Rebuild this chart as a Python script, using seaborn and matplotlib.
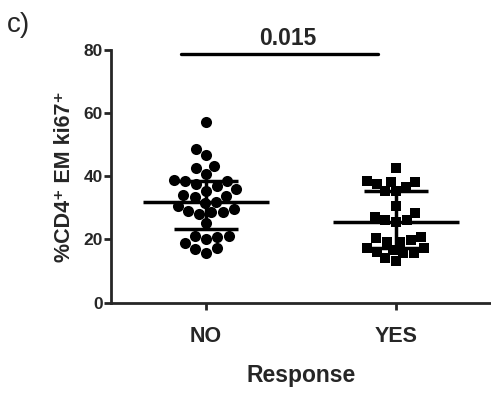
import numpy as np
import pandas as pd
import matplotlib
matplotlib.use("Agg")
import matplotlib.pyplot as plt
import seaborn as sns

# values (%CD4+ EM ki67+)
groups = ["NO", "YES"]
no_vals = [57.2, 48.6, 46.7, 43.3, 42.5, 40.7, 38.5, 38.5, 38.8, 36.9, 37.4,
           35.4, 35.9, 33.8, 33.5, 34.0, 31.9, 31.6, 30.6, 29.5, 28.6, 28.0,
           28.6, 29.0, 25.1, 20.0, 21.2, 21.2, 20.9, 18.8, 17.2, 15.8, 17.0]
yes_vals = [42.5, 38.5, 38.2, 36.7, 37.5, 38.2, 35.2, 35.2, 30.6, 28.3, 26.0,
            25.4, 26.0, 27.2, 20.3, 19.3, 19.1, 19.8, 20.9, 17.4, 17.4, 16.1,
            15.6, 16.6, 15.6, 13.2, 14.0]
p_value = "0.015"
y_ticks = [0, 20, 40, 60, 80]

df = pd.DataFrame({
    "Response": ["NO"] * len(no_vals) + ["YES"] * len(yes_vals),
    "value": no_vals + yes_vals,
})

sns.set_style("ticks")
plt.rcParams["font.family"] = ["Liberation Sans", "DejaVu Sans"]
plt.rcParams["axes.labelweight"] = "bold"

fig = plt.figure(figsize=(4.91, 3.99), dpi=100)
ax = fig.add_axes([0.226, 0.2414, 0.774, 0.6344])

sns.swarmplot(data=df[df.Response == "NO"], x="Response", y="value",
              order=groups, marker="o", color="black", size=8, ax=ax)
sns.swarmplot(data=df[df.Response == "YES"], x="Response", y="value",
              order=groups, marker="s", color="black", size=7.5, ax=ax)

# median with interquartile range
for i, vals in enumerate([no_vals, yes_vals]):
    q1, med, q3 = np.percentile(vals, [25, 50, 75], method="weibull")
    ax.hlines(med, i - 0.33, i + 0.33, color="black", lw=2.5, zorder=5)
    ax.hlines([q1, q3], i - 0.17, i + 0.17, color="black", lw=2.5, zorder=5)
    ax.vlines(i, q1, q3, color="black", lw=2.5, zorder=5)

ax.set_xlim(-0.5, 1.5)
ax.set_ylim(0, 80)
ax.set_yticks(y_ticks)
sns.despine(ax=ax)
for s in ["left", "bottom"]:
    ax.spines[s].set_linewidth(2)
ax.tick_params(direction="out", length=5, width=2)
ax.tick_params(axis="y", labelsize=12.5, pad=1)
ax.tick_params(axis="x", labelsize=15.5, pad=12)
for lab in ax.get_xticklabels() + ax.get_yticklabels():
    lab.set_fontweight("bold")

ax.set_xlabel("Response", fontsize=16.5, fontweight="bold", labelpad=12)
ax.set_ylabel("%CD4\u207a EM ki67\u207a", fontsize=15.5, fontweight="bold",
              labelpad=6)
ax.yaxis.label.set_fontweight("bold")

# significance bracket
ax.plot([-0.13, 0.905], [78.6, 78.6], color="black", lw=2.4, clip_on=False)
ax.text(0.43, 81.4, p_value, ha="center", va="baseline", fontsize=16.5,
        fontweight="bold")

fig.text(7 / 491, 1 - 32 / 399, "c)", fontsize=20, va="baseline")

plt.savefig("out.png", dpi=100)
